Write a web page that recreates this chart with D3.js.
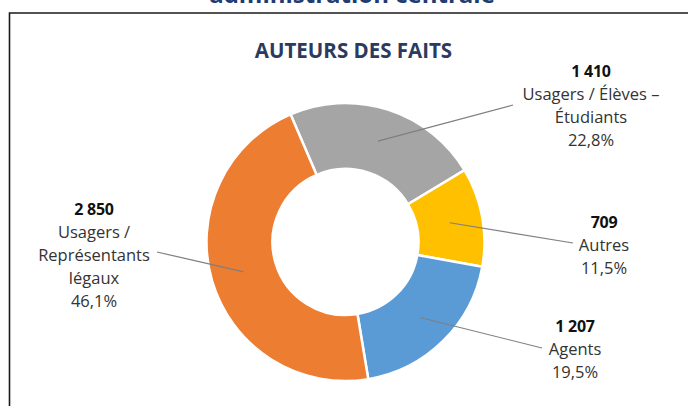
<!DOCTYPE html>
<html>
<head>
<meta charset="utf-8">
<script src="https://cdn.jsdelivr.net/npm/d3@7"></script>
<style>
  body { margin: 0; background: #fff; }
  svg { display: block; font-family: "Open Sans", Lato, sans-serif; }
</style>
</head>
<body>
<svg id="chart" width="688" height="406"></svg>
<script>
// data, in the order Excel draws the slices (clockwise from the first slice angle)
const categories = ['Usagers / Élèves – Étudiants', 'Autres', 'Agents', 'Usagers / Représentants légaux'];
const values = [1410, 709, 1207, 2850];
const labelLines = [
  ['Usagers / Élèves –', 'Étudiants'],
  ['Autres'],
  ['Agents'],
  ['Usagers /', 'Représentants', 'légaux'],
];
const colors = ['#a5a5a5', '#ffc000', '#5b9bd5', '#ed7d31'];

// layout of the labels (x, first baseline, leader line end)
const labelPos = [
  { x: 591, y: 77, lx: 513, ly: 105 },
  { x: 604, y: 228, lx: 573, ly: 243 },
  { x: 575, y: 332, lx: 542, ly: 348 },
  { x: 94, y: 215, lx: 157, ly: 252 },
];

const fr = d3.formatLocale({ decimal: ',', thousands: '\u00a0', grouping: [3], currency: ['', ' €'] });
const fmtNum = fr.format(',d');
const fmtPct = fr.format('.1f');

const svg = d3.select('#chart');
const cx = 345.5;
const cy = 242;
const rOuter = 139;
const rInner = 73;
const lineH = 23;

// frame + cut title above
svg.append('text')
  .attr('x', 352)
  .attr('y', 3)
  .attr('text-anchor', 'middle')
  .style('font-size', '24px')
  .style('font-weight', 'bold')
  .style('fill', '#1f3b73')
  .text('administration centrale');

svg.append('path')
  .attr('d', 'M9.5,406 V13 H700')
  .attr('fill', 'none')
  .attr('stroke', '#1a1a1a')
  .attr('stroke-width', 1.6);

svg.append('text')
  .attr('x', 353.5)
  .attr('y', 58)
  .attr('text-anchor', 'middle')
  .style('font-size', '20.5px')
  .style('font-weight', 'bold')
  .style('fill', '#2b3a5e')
  .text('AUTEURS DES FAITS');

const total = d3.sum(values);
const startA = -23.3 * Math.PI / 180;
const pie = d3.pie().sort(null).startAngle(startA).endAngle(startA + 2 * Math.PI);
const arcs = pie(values);
const arc = d3.arc().innerRadius(rInner).outerRadius(rOuter);

const g = svg.append('g').attr('transform', `translate(${cx},${cy})`);

g.selectAll('path.slice')
  .data(arcs)
  .enter()
  .append('path')
  .classed('slice', true)
  .attr('d', arc)
  .attr('fill', (d, i) => colors[i])
  .attr('stroke', '#fff')
  .attr('stroke-width', 2.5);

// leader lines
g.selectAll('line.leader')
  .data(arcs)
  .enter()
  .append('line')
  .classed('leader', true)
  .attr('x1', d => arc.centroid(d)[0])
  .attr('y1', d => arc.centroid(d)[1])
  .attr('x2', (d, i) => labelPos[i].lx - cx)
  .attr('y2', (d, i) => labelPos[i].ly - cy)
  .attr('stroke', '#7f7f7f')
  .attr('stroke-width', 1.2);

// labels
const lab = svg.selectAll('g.label')
  .data(arcs)
  .enter()
  .append('g')
  .classed('label', true);

lab.append('text')
  .attr('x', (d, i) => labelPos[i].x)
  .attr('y', (d, i) => labelPos[i].y)
  .attr('text-anchor', 'middle')
  .style('font-size', '16px')
  .style('font-weight', 'bold')
  .style('letter-spacing', '-0.3px')
  .style('fill', '#111')
  .text(d => fmtNum(d.value));

lab.each(function (d, i) {
  const lines = labelLines[i].concat([fmtPct(d.value / total * 100) + '%']);
  d3.select(this).selectAll('text.line')
    .data(lines)
    .enter()
    .append('text')
    .classed('line', true)
    .attr('x', labelPos[i].x)
    .attr('y', (t, j) => labelPos[i].y + (j + 1) * lineH)
    .attr('text-anchor', 'middle')
    .style('font-size', '16.5px')
    .style('fill', '#333')
    .text(t => t);
});
</script>
</body>
</html>
